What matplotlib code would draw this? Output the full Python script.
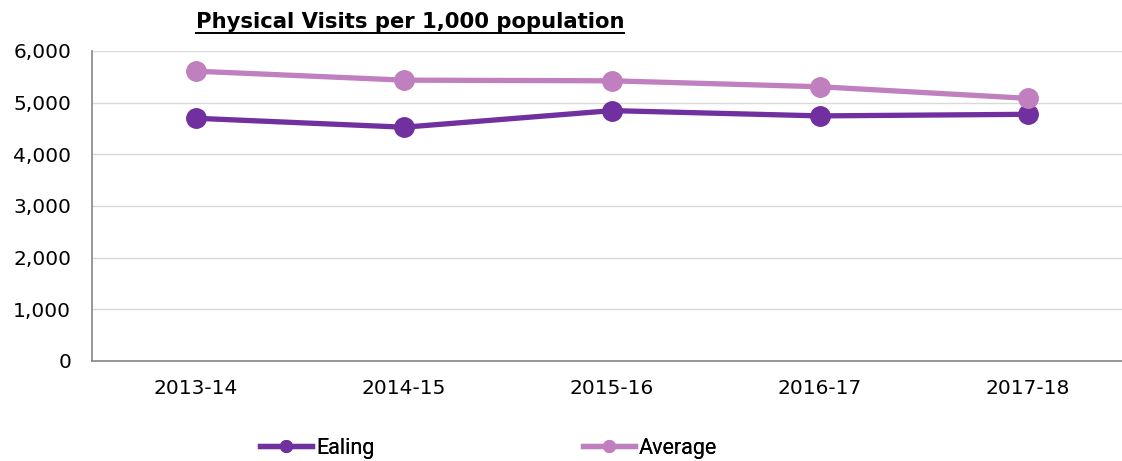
import matplotlib
matplotlib.use("Agg")
import matplotlib.pyplot as plt
from matplotlib.ticker import FuncFormatter

years = ["2013-14", "2014-15", "2015-16", "2016-17", "2017-18"]
ealing = [4698, 4525, 4846, 4744, 4775]
average = [5609, 5436, 5423, 5308, 5083]

W, H = 1122, 461
fig = plt.figure(figsize=(W/100, H/100), dpi=100)
left, right, top, bottom = 92, 1122, 51, 361
ax = fig.add_axes([left/W, 1-bottom/H, (right-left)/W, (bottom-top)/H])

x = list(range(len(years)))
c1, c2 = "#7030A0", "#C07FBF"
l1, = ax.plot(x, ealing, color=c1, lw=3.8, marker="o", ms=14, label="Ealing", zorder=3)
l2, = ax.plot(x, average, color=c2, lw=3.8, marker="o", ms=14, label="Average", zorder=3)

ax.set_ylim(0, 6000)
ax.set_yticks(range(0, 6001, 1000))
ax.yaxis.set_major_formatter(FuncFormatter(lambda v, p: f"{int(v):,}"))
ax.set_xlim(-0.5, 4.5 - 10/208)
ax.set_xticks(x)
ax.set_xticklabels(years)
ax.grid(axis="y", color="#D9D9D9", lw=1)
ax.set_axisbelow(True)
for s in ["top", "right"]:
    ax.spines[s].set_visible(False)
for s in ["left", "bottom"]:
    ax.spines[s].set_color("#868686")
    ax.spines[s].set_linewidth(1.2)
ax.tick_params(axis="both", length=0, labelsize=14.5, colors="black")
ax.tick_params(axis="x", pad=13)
ax.tick_params(axis="y", pad=15)

t = fig.text(410/W, 1-22/H, "Physical Visits per 1,000 population", ha="center", va="center",
             fontsize=15.2, fontweight="bold")
fig.canvas.draw()
bb = t.get_window_extent(renderer=fig.canvas.get_renderer())
fig.add_artist(plt.Line2D([bb.x0/W, bb.x1/W], [1-33/H, 1-33/H], color="black", lw=1.4))

for h, xa in [(l1, 260), (l2, 583)]:
    leg = fig.legend(handles=[h], loc="center left", bbox_to_anchor=(xa/W, 1-448/H),
                     frameon=False, prop={"family": "Roboto", "size": 15.5},
                     handlelength=2.4, handletextpad=0.2,
                     markerscale=0.6, borderpad=0, borderaxespad=0)
    fig.add_artist(leg)
fig.savefig("out.png", dpi=100)
